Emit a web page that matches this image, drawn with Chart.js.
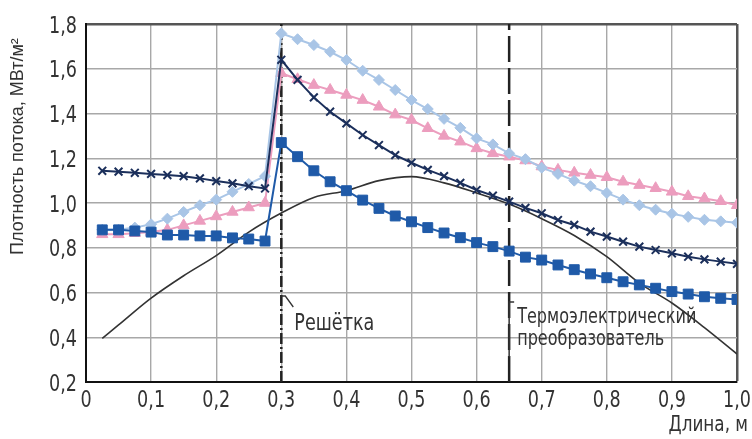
<!DOCTYPE html>
<html>
<head>
<meta charset="utf-8">
<script src="https://cdn.jsdelivr.net/npm/chart.js@4"></script>
<style>
  html,body{margin:0;padding:0;background:#fff;}
  canvas{display:block;}
</style>
</head>
<body>
<canvas id="chart" width="752" height="439"></canvas>
<script>
// DATA
const xs=[0.025,0.05,0.075,0.1,0.125,0.15,0.175,0.2,0.225,0.25,0.275,0.3,0.325,0.35,0.375,0.4,0.425,0.45,0.475,0.5,
  0.525,0.55,0.575,0.6,0.625,0.65,0.675,0.7,0.725,0.75,0.775,0.8,0.825,0.85,0.875,0.9,0.925,0.95,0.975,1.0];
const diamonds=[0.88,0.88,0.89,0.905,0.93,0.96,0.99,1.015,1.05,1.085,1.12,
  1.758,1.732,1.706,1.676,1.639,1.591,1.55,1.505,1.46,1.42,1.376,1.336,1.289,1.262,1.222,1.196,1.158,1.13,1.1,
  1.075,1.045,1.015,0.99,0.97,0.952,0.938,0.925,0.918,0.912];
const triangles=[0.86,0.86,0.865,0.87,0.88,0.9,0.92,0.94,0.96,0.98,1.0,
  1.58,1.553,1.527,1.505,1.483,1.46,1.43,1.395,1.371,1.334,1.3,1.274,1.244,1.222,1.207,1.19,1.163,1.148,1.135,
  1.125,1.115,1.095,1.08,1.066,1.05,1.03,1.02,1.008,0.99];
const crosses=[1.144,1.14,1.135,1.13,1.125,1.12,1.11,1.098,1.088,1.075,1.065,
  1.64,1.55,1.472,1.408,1.356,1.304,1.259,1.214,1.18,1.148,1.12,1.09,1.058,1.033,1.006,0.978,0.954,0.924,0.902,
  0.872,0.85,0.827,0.805,0.79,0.775,0.76,0.748,0.738,0.728];
const squares=[0.88,0.88,0.875,0.87,0.857,0.857,0.853,0.853,0.844,0.839,0.83,
  1.27,1.207,1.144,1.095,1.055,1.013,0.976,0.942,0.916,0.89,0.866,0.845,0.823,0.805,0.785,0.758,0.745,0.723,0.702,
  0.683,0.666,0.648,0.634,0.619,0.604,0.593,0.581,0.574,0.569];
const curveX=[0.025,0.05,0.1,0.15,0.2,0.25,0.3,0.35,0.4,0.45,0.5,0.55,0.6,0.65,0.7,0.75,0.8,0.85,0.9,0.95,1.0];
const curveY=[0.395,0.455,0.575,0.675,0.765,0.87,0.955,1.025,1.055,1.1,1.118,1.09,1.045,0.995,0.93,0.855,0.76,0.642,0.553,0.443,0.325];
const gridX=0.3, sensorX=0.65;
const yRange=[0.2,1.8];
const yTitle="Плотность потока, МВт/м²";
const xTitle="Длина, м";
const gridLabel="Решётка";
const sensorLabel=["Термоэлектрический","преобразователь"];

const COND="'DejaVu Sans Condensed','DejaVu Sans',sans-serif";
const SQUEEZE=0.85;
const fmt=v=>Math.abs(v)<1e-9?"0":(+v).toFixed(1).replace(".",",");
const pts=(xv,yv)=>xv.map((x,i)=>({x,y:yv[i]}));
const vline=x=>[{x,y:yRange[0]},{x,y:yRange[1]}];

function series(data,color,style,radius,order,extra){
  return Object.assign({
    data,borderColor:color,backgroundColor:color,borderWidth:2,
    pointStyle:style,pointRadius:radius,pointBorderWidth:1,
    pointBackgroundColor:color,pointBorderColor:color,order
  },extra||{});
}

// narrow text: the source face is condensed, so squeeze horizontally
function txt(ctx,s,x,y,align,size){
  ctx.save();
  ctx.translate(x,y);
  ctx.scale(SQUEEZE,1);
  ctx.font=size+"px "+COND;
  ctx.textAlign=align;
  ctx.textBaseline="alphabetic";
  ctx.fillText(s,0,0);
  ctx.restore();
}

// TICKS, TITLES, LABELS
const labels={
  id:"labels",
  afterDraw(c){
    const ctx=c.ctx, sx_=c.scales.x, sy_=c.scales.y;
    ctx.save();
    ctx.fillStyle="#333";
    sy_.ticks.forEach(t=>txt(ctx,fmt(t.value),77,sy_.getPixelForValue(t.value)+8.5,"right",23));
    sx_.ticks.forEach(t=>txt(ctx,fmt(t.value),sx_.getPixelForValue(t.value),407,"center",23));
    // y title
    ctx.save();
    ctx.translate(18,255);
    ctx.rotate(-Math.PI/2);
    ctx.font="18px 'Liberation Sans',Arial,sans-serif";
    ctx.textBaseline="middle";
    ctx.textAlign="left";
    ctx.fillText(yTitle,0,0);
    ctx.restore();
    // x title
    txt(ctx,xTitle,748,431,"right",22);
    // grid label
    const gx=sx_.getPixelForValue(gridX);
    txt(ctx,gridLabel,gx+13,330,"left",23);
    ctx.strokeStyle="#333";ctx.lineWidth=1.3;
    ctx.beginPath();ctx.moveTo(gx,296);ctx.lineTo(gx+4,296);ctx.lineTo(gx+12,307);ctx.stroke();
    // sensor label
    const px=sx_.getPixelForValue(sensorX);
    txt(ctx,sensorLabel[0],px+8,323,"left",21);
    txt(ctx,sensorLabel[1],px+8,345,"left",21);
    ctx.lineWidth=1.5;
    ctx.beginPath();ctx.moveTo(px+5,302);ctx.lineTo(px,302);ctx.lineTo(px,357);ctx.stroke();
    ctx.restore();
  }
};

const gridColor=max=>ctx=>(ctx.tick&&Math.abs(ctx.tick.value-max)<1e-6)?"#555":"#a8a8a8";
const gridWidth=max=>ctx=>(ctx.tick&&Math.abs(ctx.tick.value-max)<1e-6)?2.5:1.4;

new Chart(document.getElementById("chart"),{
  type:"line",
  data:{datasets:[
    series(pts(xs,crosses),"#1b2f5b","crossRot",5.5,0,{pointBorderWidth:2}),
    series(pts(xs,squares),"#1f5aa8","rect",7,1),
    series(pts(xs,triangles),"#ec9dbe","triangle",6.5,3),
    series(pts(xs,diamonds),"#a9c5e6","rectRot",5.5,2),
    {data:pts(curveX,curveY),borderColor:"#333",borderWidth:1.6,pointRadius:0,cubicInterpolationMode:"monotone",order:4},
    {data:vline(gridX),borderColor:"#222",borderWidth:2.5,borderDash:[11,3,2,3],pointRadius:0,order:5},
    {data:vline(sensorX),borderColor:"#222",borderWidth:2.5,borderDash:[26,6],pointRadius:0,order:6}
  ]},
  options:{
    responsive:false,animation:false,devicePixelRatio:1,
    layout:{padding:{top:24,right:15,left:0,bottom:0}},
    plugins:{legend:{display:false},tooltip:{enabled:false}},
    scales:{
      x:{type:"linear",min:0,max:1,
        ticks:{stepSize:0.1,display:false},
        grid:{color:gridColor(1),lineWidth:gridWidth(1),drawTicks:false},
        border:{display:true,color:"#111",width:2},
        afterFit:s=>{s.height=57;}},
      y:{min:yRange[0],max:yRange[1],
        ticks:{stepSize:0.2,display:false},
        grid:{color:gridColor(1.8),lineWidth:gridWidth(1.8),drawTicks:false},
        border:{display:true,color:"#111",width:2},
        afterFit:s=>{s.width=86;}}
    }
  },
  plugins:[labels]
});
</script>
</body>
</html>
